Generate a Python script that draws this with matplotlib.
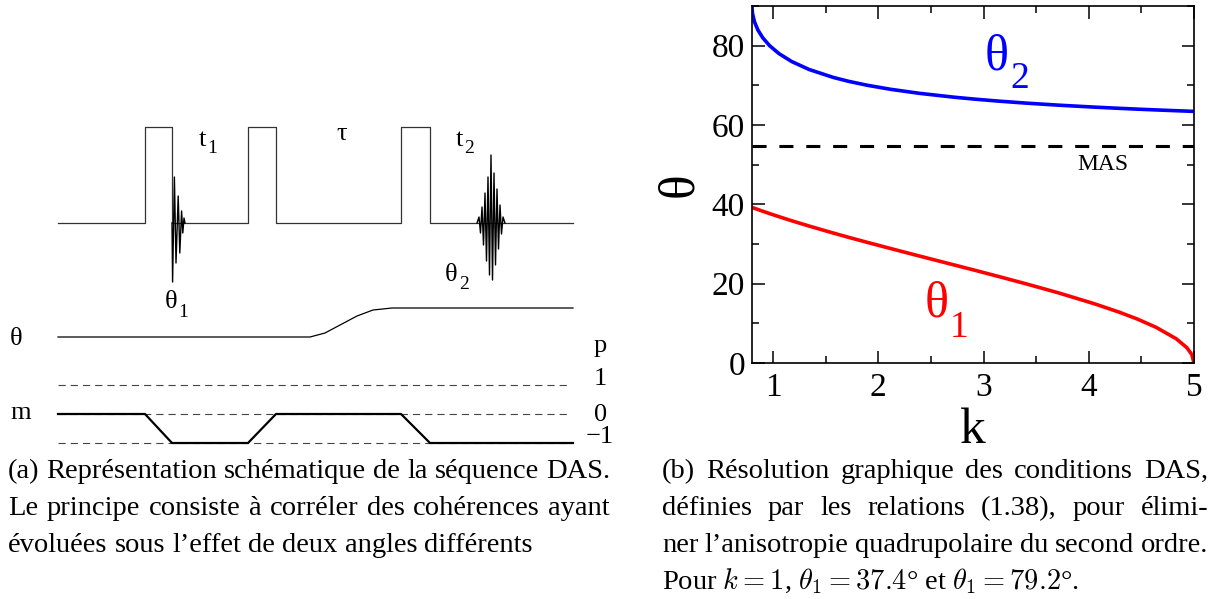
import matplotlib
matplotlib.use("Agg")
import matplotlib.pyplot as plt
from matplotlib.ticker import MultipleLocator

plt.rcParams['font.family'] = ['Liberation Serif', 'DejaVu Serif']
plt.rcParams['axes.unicode_minus'] = True

W, H = 1216, 599

# ============================ (b) DAS angles data ============================
k_vals = [0.8, 0.8015, 0.8059, 0.8239, 0.8551, 0.9018, 0.9671, 1.0562, 1.1771,
          1.3421, 1.5713, 1.7199, 1.8989, 2.1171, 2.3862, 2.7234, 2.9248, 3.1532,
          3.4138, 3.7128, 4.0585, 4.2922, 4.4606, 4.6402, 4.8319, 4.9327, 4.979,
          5.0]
theta2 = [90, 89, 88, 86, 84, 82, 80, 78, 76, 74, 72, 71, 70, 69, 68, 67, 66.5,
          66, 65.5, 65, 64.5, 64.2, 64.0, 63.8, 63.6, 63.5, 63.45, 63.43]
theta1 = [39.23, 39.21, 39.17, 39.0, 38.7, 38.27, 37.67, 36.89, 35.86, 34.53,
          32.77, 31.67, 30.39, 28.86, 27.0, 24.7, 23.33, 21.74, 19.89, 17.68,
          14.89, 12.79, 11.09, 8.99, 6.10, 3.85, 2.14, 0.0]
theta_mas = 54.74

# ========================= (a) DAS sequence schematic ========================
seq_x0, seq_x1 = 58, 573
rf_base, rf_top = 223, 127
pulses = [(145, 172), (248, 276), (401, 430)]

# FID after first pulse (offset from pulse end, amplitude upward in px)
fid_dx = [0, 0.6, 2.4, 4.0, 6.2, 7.8, 9.6, 10.8, 12.0, 13.0]
fid_amp = [0, -59, 46, -40, 27, -30, 12, -10, 5, 0]
# echo centred at t2
echo_x0 = 491
echo_dx = [-14, -12, -10.5, -9, -7.5, -6, -4.5, -3, -1.5, 0, 1.5, 3, 4.5, 6, 7.5,
           9, 10.5, 12, 14]
echo_amp = [0, 6, -10, 16, -22, 30, -38, 46, -52, 68, -57, 50, -42, 34, -26, 18,
            -11, 6, 0]

# rotor angle trace
angle_x = [58, 310, 325, 357, 373, 392, 573]
angle_y = [337, 337, 333, 316, 310, 308, 308]

# coherence pathway
p_levels = [1, 0, -1]
p_rows = {1: 385, 0: 414, -1: 443}
m_x = [58, 145, 172, 248, 276, 401, 430, 573]
m_p = [0, 0, -1, -1, 0, 0, -1, -1]

fig = plt.figure(figsize=(W / 100, H / 100), dpi=100)
renderer = fig.canvas.get_renderer()
ax_d = fig.add_axes([0, 0, 1, 1])
ax_d.set_xlim(0, W)
ax_d.set_ylim(H, 0)
ax_d.axis('off')


def sub_label(axis, x, y, main, sub, size, sub_size, drop, color='black'):
    t = axis.text(x, y, main, fontsize=size, color=color, va='baseline', ha='left')
    w = t.get_window_extent(renderer).width
    axis.annotate(sub, xy=(x, y), xytext=(w + 1, -drop), textcoords='offset pixels',
                  fontsize=sub_size, color=color, va='baseline', ha='left')


rf_x, rf_y = [seq_x0], [rf_base]
for a, b in pulses:
    rf_x += [a, a, b, b]
    rf_y += [rf_base, rf_top, rf_top, rf_base]
rf_x.append(seq_x1)
rf_y.append(rf_base)
ax_d.plot(rf_x, rf_y, color='#333333', lw=0.9)

fid_start = pulses[0][1]
ax_d.plot([fid_start + d for d in fid_dx], [rf_base - a for a in fid_amp],
          color='black', lw=1.0)
ax_d.plot([echo_x0 + d for d in echo_dx], [rf_base - a for a in echo_amp],
          color='black', lw=1.0)

ax_d.plot(angle_x, angle_y, color='black', lw=0.9)

for p in p_levels:
    ax_d.plot([seq_x0, 570], [p_rows[p], p_rows[p]], color='#444444', lw=0.8,
              dashes=(6.5, 4.5))
ax_d.plot(m_x, [p_rows[p] for p in m_p], color='black', lw=1.6)

lab = dict(color='black', va='baseline', ha='left')
sub_label(ax_d, 199, 146, 't', '1', 19, 14, 7)
ax_d.text(336, 140, 'τ', fontsize=19, **lab)
sub_label(ax_d, 456, 146, 't', '2', 19, 14, 7)
sub_label(ax_d, 165, 308, 'θ', '1', 19, 14, 9)
sub_label(ax_d, 445, 281, 'θ', '2', 19, 14, 8)
ax_d.text(10, 345, 'θ', fontsize=19, **lab)
ax_d.text(10, 419, 'm', fontsize=19, **lab)
ax_d.text(594, 352, 'p', fontsize=19, **lab)
ax_d.text(594, 385, '1', fontsize=19, **lab)
ax_d.text(594, 421, '0', fontsize=19, **lab)
ax_d.text(586, 443, '\u22121', fontsize=19, **lab)

# ============================ (b) DAS angles plot ============================
ax = fig.add_axes([752 / W, 1 - 363 / H, 442 / W, 357 / H])
ax.plot(k_vals, theta2, color='#0000ff', lw=2.6, solid_capstyle='butt')
ax.plot(k_vals, theta1, color='#ff0000', lw=2.6, solid_capstyle='butt')
ax.axhline(theta_mas, color='black', lw=2.2, dashes=(4.6, 4.2))
ax.set_xlim(0.8, 5)
ax.set_ylim(0, 90)
ax.xaxis.set_major_locator(MultipleLocator(1))
ax.xaxis.set_minor_locator(MultipleLocator(0.5))
ax.yaxis.set_major_locator(MultipleLocator(20))
ax.yaxis.set_minor_locator(MultipleLocator(10))
ax.tick_params(which='both', direction='in', top=True, right=True, width=1.1,
               labelsize=24)
ax.tick_params(which='major', length=9)
ax.tick_params(which='minor', length=5)
ax.tick_params(axis='x', pad=7)
ax.tick_params(axis='y', pad=5)
for s in ax.spines.values():
    s.set_linewidth(1.2)
ax.set_xlabel('k', fontsize=37, labelpad=3)
ax.set_ylabel('θ', fontsize=37, labelpad=6)

sub_label(ax, 3.015, 74.1, 'θ', '2', 36, 27, 19, color='#0000ff')
sub_label(ax, 2.445, 11.8, 'θ', '1', 36, 27, 21, color='#ff0000')
ax.text(3.89, 48.65, 'MAS', fontsize=17, color='black', va='baseline')

# ================================= captions =================================
cap_size = 20.5


def text_width(s):
    t = fig.text(0, 0, s, fontsize=cap_size)
    w = t.get_window_extent(renderer).width
    t.remove()
    return w


space_w = text_width('a a') - text_width('aa')


def caption_line(s, x0, x1, y, justify=True):
    words = s.split(' ')
    widths = [text_width(w) for w in words]
    if justify and len(words) > 1:
        gap = (x1 - x0 - sum(widths)) / (len(words) - 1)
    else:
        gap = space_w
    x = x0
    for w, wd in zip(words, widths):
        fig.text(x / W, 1 - y / H, w, fontsize=cap_size, va='baseline', ha='left')
        x += wd + gap


left_caption = ["(a) Représentation schématique de la séquence DAS.",
                "Le principe consiste à corréler des cohérences ayant",
                "évoluées sous l\u2019effet de deux angles différents"]
right_caption = ["(b) Résolution graphique des conditions DAS,",
                 "définies par les relations (1.38), pour élimi-",
                 "ner l\u2019anisotropie quadrupolaire du second ordre."]
last_line = r"Pour $k = 1$, $\theta_1 = 37.4$° et $\theta_1 = 79.2$°."

baselines = [478, 515, 552, 589]
for i, s in enumerate(left_caption):
    caption_line(s, 8, 610, baselines[i], justify=(i < 2))
for i, s in enumerate(right_caption):
    caption_line(s, 662, 1208, baselines[i], justify=True)
fig.text(662 / W, 1 - baselines[3] / H, last_line, fontsize=cap_size,
         va='baseline', ha='left', math_fontfamily='cm')

fig.savefig('out.png', dpi=100)
